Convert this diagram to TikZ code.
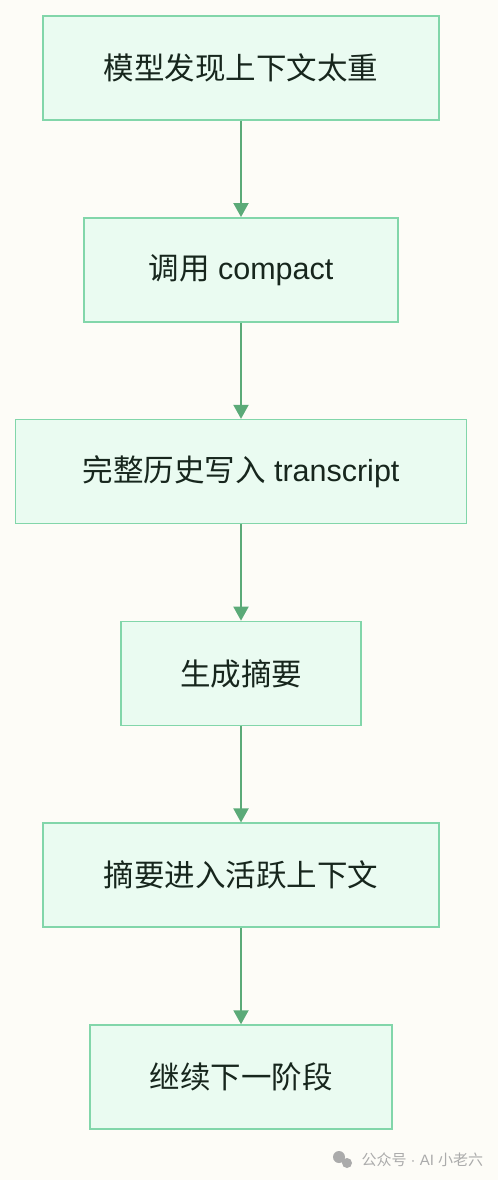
\documentclass[tikz,border=0pt]{standalone}
\usepackage{fontspec}
\setmainfont{Liberation Sans}
\newfontfamily\cjk{Noto Sans CJK SC}
\usepackage{tikz}
\usetikzlibrary{arrows.meta,positioning}
\definecolor{bgcol}{HTML}{FDFCF7}
\definecolor{boxfill}{HTML}{EAFBF1}
\definecolor{boxline}{HTML}{82D6AA}
\definecolor{arrcol}{HTML}{5BAA78}
\definecolor{txtcol}{HTML}{17261D}
\definecolor{markcol}{HTML}{ABABAB}
\tikzset{
    node distance = 96.3pt,
    step box/.style ={rectangle, draw=boxline, fill=boxfill, line width=1.5pt,
        minimum height=104pt, text=txtcol, font=\fontsize{30.5}{36}\selectfont},
    flow/.style={-{Triangle[length=14pt,width=15pt]}, draw=arrcol, line width=2pt}
}

\begin{document}
\begin{tikzpicture}[x=1pt,y=-1pt]
    \useasboundingbox[fill=bgcol] (0,0) rectangle (498,1180);
    \node[step box, minimum width=396pt] (1) at (241,68) {\cjk 模型发现上下文太重};
	\node[step box, minimum width=314pt] (2) [below = of 1] {{\cjk 调用} compact};
	\node[step box, minimum width=451pt] (3) [below = of 2] {{\cjk 完整历史写入} transcript};
	\node[step box, minimum width=240pt] (4) [below = of 3] {\cjk 生成摘要};
	\node[step box, minimum width=396pt] (5) [below = of 4] {\cjk 摘要进入活跃上下文};
	\node[step box, minimum width=302pt] (6) [below = of 5] {\cjk 继续下一阶段};

	\path (1) edge[flow] (2);
	\path (2) edge[flow] (3);
	\path (3) edge[flow] (4);
	\path (4) edge[flow] (5);
	\path (5) edge[flow] (6);

	% watermark
	\fill[markcol] (339,1157) circle (6pt) (347,1163) circle (5pt);
	\node[text=markcol, anchor=west, font=\fontsize{15}{17}\selectfont] (mark) at (358,1160) {{\cjk 公众号} · AI {\cjk 小老六}};
\end{tikzpicture}
\end{document}
